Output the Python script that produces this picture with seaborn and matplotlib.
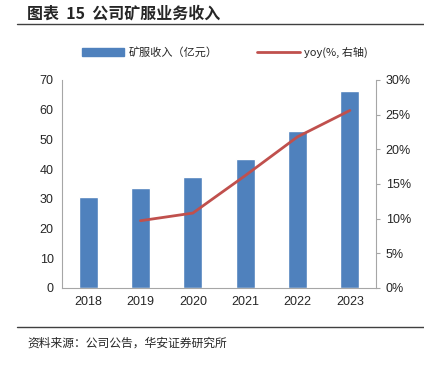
import numpy as np
import pandas as pd
import seaborn as sns
import matplotlib.pyplot as plt
from matplotlib.lines import Line2D
from matplotlib.patches import Patch

sns.set_style('white')
plt.rcParams['font.family'] = ['Liberation Sans', 'Noto Sans CJK SC', 'DejaVu Sans']
cjk = ['Noto Sans CJK SC', 'DejaVu Sans']

years = ['2018', '2019', '2020', '2021', '2022', '2023']
revenue = [30.6, 33.7, 37.4, 43.4, 52.9, 66.3]
yoy_years = ['2019', '2020', '2021', '2022', '2023']
yoy = [9.7, 10.8, 16.2, 21.8, 25.6]

bar_color = '#4F81BD'
line_color = '#C0504D'

df = pd.DataFrame({'year': years, 'revenue': revenue})
df_yoy = pd.DataFrame({'pos': [years.index(y) for y in yoy_years], 'yoy': yoy})

fig = plt.figure(figsize=(4.24, 3.65), dpi=100)
ax = fig.add_axes([0.146, 0.211, 0.741, 0.570])

sns.barplot(data=df, x='year', y='revenue', color=bar_color, width=0.36,
            saturation=1, ax=ax)
ax.set_ylim(0, 70)
ax.set_yticks(range(0, 71, 10))
ax.set_xlabel('')
ax.set_ylabel('')
ax.set_xlim(-0.5, 5.5)
ax.tick_params(axis='both', labelsize=9, length=0, pad=6)
for s in ['top', 'right']:
    ax.spines[s].set_visible(False)
for s in ['left', 'bottom']:
    ax.spines[s].set_color('#a6a6a6')
    ax.spines[s].set_linewidth(0.8)

ax2 = ax.twinx()
sns.lineplot(data=df_yoy, x='pos', y='yoy', color=line_color, linewidth=2, ax=ax2)
ax2.set_ylim(0, 30)
ax2.set_yticks(range(0, 31, 5))
ax2.set_yticklabels([f'{v}%' for v in range(0, 31, 5)])
ax2.set_xlim(-0.5, 5.5)
ax2.set_ylabel('')
ax2.set_xlabel('')
ax2.tick_params(axis='y', labelsize=9, length=3, color='#a6a6a6', pad=4)
for s in ['top', 'left', 'bottom']:
    ax2.spines[s].set_visible(False)
ax2.spines['right'].set_color('#a6a6a6')
ax2.spines['right'].set_linewidth(0.8)

handles = [Patch(color=bar_color), Line2D([], [], color=line_color, linewidth=2)]
fig.legend(handles, ['矿服收入（亿元）', 'yoy(%, 右轴)'], loc='center',
           bbox_to_anchor=(0.53, 0.857), ncol=2, frameon=False,
           prop={'family': cjk, 'size': 8},
           handlelength=3.8, handleheight=0.7, handletextpad=0.4, columnspacing=3.6)

fig.text(0.064, 0.962, '图表  15  公司矿服业务收入', fontsize=11.5, fontweight='bold',
         va='center', ha='left', family=cjk)
fig.add_artist(Line2D([0.04, 1.0], [0.933, 0.933], color='#404040', linewidth=1))
fig.add_artist(Line2D([0.04, 1.0], [0.104, 0.104], color='#404040', linewidth=1))
fig.text(0.064, 0.06, '资料来源：公司公告，华安证券研究所', fontsize=8.5,
         va='center', ha='left', family=cjk)

fig.savefig('out.png', dpi=100)
